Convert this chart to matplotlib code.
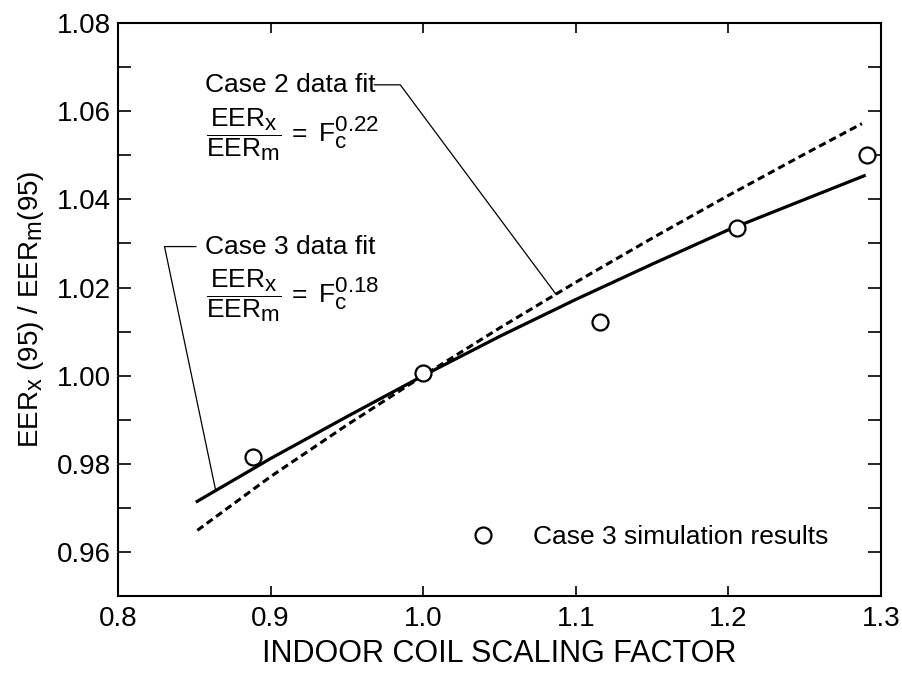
import matplotlib.pyplot as plt
import matplotlib._mathtext as mathtext_impl

plt.rcParams['font.family'] = 'Liberation Sans'
plt.rcParams['mathtext.fontset'] = 'custom'
plt.rcParams['mathtext.rm'] = 'Liberation Sans'
plt.rcParams['mathtext.it'] = 'Liberation Sans:italic'
# sub/superscripts in the original are nearly full size
mathtext_impl.SHRINK_FACTOR = 0.85

# Case 3 data fit (solid)
case3_x = [0.851, 0.90, 0.95, 1.00, 1.05, 1.10, 1.15, 1.20, 1.25, 1.290]
case3_y = [0.9713, 0.9812, 0.9907, 1.0000, 1.0089, 1.0173, 1.0253, 1.0331, 1.0400, 1.0455]

# Case 2 data fit (dashed)
case2_x = [0.852, 0.90, 0.95, 1.00, 1.05, 1.10, 1.15, 1.20, 1.25, 1.2875]
case2_y = [0.9649, 0.9771, 0.9888, 1.0000, 1.0108, 1.0212, 1.0312, 1.0409, 1.0503, 1.0572]

# Case 3 simulation results
sim_x = [0.8886, 1.0002, 1.1161, 1.2057, 1.2909]
sim_y = [0.9816, 1.0005, 1.0121, 1.0336, 1.0501]

xticks = [0.8, 0.9, 1.0, 1.1, 1.2, 1.3]
yticks = [0.96, 0.98, 1.00, 1.02, 1.04, 1.06, 1.08]
yminor = [0.95, 0.97, 0.99, 1.01, 1.03, 1.05, 1.07]

fig = plt.figure(figsize=(9.02, 6.79), dpi=100)
ax = fig.add_axes([0.1308, 0.1222, 0.8459, 0.8437])

ax.plot(case3_x, case3_y, color='black', lw=2.3, solid_capstyle='butt')
ax.plot(case2_x, case2_y, color='black', lw=2.2, dashes=(2.4, 1.4))
pts, = ax.plot(sim_x, sim_y, 'o', ms=11.5, mfc='white', mec='black', mew=1.6,
               label='Case 3 simulation results')

# callouts
ax.plot([0.968, 0.985, 1.087], [1.066, 1.066, 1.0185], color='black', lw=0.9)
ax.plot([0.851, 0.8305, 0.864], [1.0293, 1.0293, 0.974], color='black', lw=0.9)

ax.text(0.8568, 1.066, 'Case 2 data fit', fontsize=19, va='center')
ax.text(0.858, 1.0546, r'$\dfrac{\mathrm{EER_x}}{\mathrm{EER_m}}\,=\ \mathrm{F_c^{0.22}}$',
        fontsize=19, va='center')
ax.text(0.8568, 1.0293, 'Case 3 data fit', fontsize=19, va='center')
ax.text(0.858, 1.0181, r'$\dfrac{\mathrm{EER_x}}{\mathrm{EER_m}}\,=\ \mathrm{F_c^{0.18}}$',
        fontsize=19, va='center')

ax.legend(handles=[pts], loc='center right', bbox_to_anchor=(0.945, 0.103),
          frameon=False, fontsize=19, handletextpad=0.9, borderaxespad=0)

ax.set_xlim(0.8, 1.3)
ax.set_ylim(0.95, 1.08)
ax.set_xticks(xticks)
ax.set_xticklabels([f'{v:.1f}' for v in xticks])
ax.set_yticks(yticks)
ax.set_yticklabels([f'{v:.2f}' for v in yticks])
ax.set_yticks(yminor, minor=True)
ax.tick_params(which='both', direction='in', top=True, right=True,
               labelsize=20, width=1.2)
ax.tick_params(axis='y', which='both', length=9.5, pad=5)
ax.tick_params(axis='x', which='major', length=7.5, pad=7)
for s in ax.spines.values():
    s.set_linewidth(1.5)

ax.set_xlabel('INDOOR COIL SCALING FACTOR', fontsize=22, labelpad=5)
ax.set_ylabel(r'EER$_\mathrm{x}$ (95) / EER$_\mathrm{m}$(95)', fontsize=20, labelpad=8)

fig.savefig('out.png', dpi=100)
